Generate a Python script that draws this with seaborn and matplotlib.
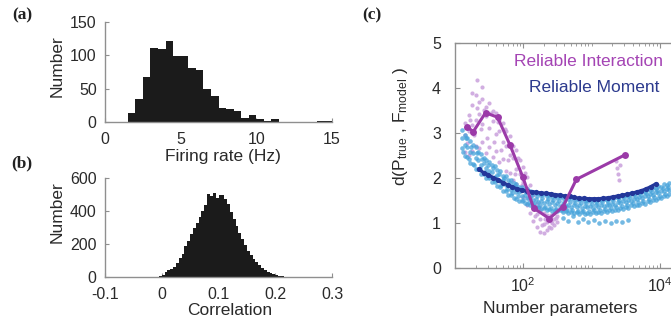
import numpy as np
import matplotlib
matplotlib.use('Agg')
import matplotlib.pyplot as plt
from matplotlib.ticker import LogLocator, NullFormatter
import seaborn as sns

# ---------------- (a) firing rate histogram ----------------
fr_edges = [1.5, 2.0, 2.5, 3.0, 3.5, 4.0, 4.5, 5.0, 5.5, 6.0, 6.5, 7.0, 7.5, 8.0,
            8.5, 9.0, 9.5, 10.0, 10.5, 11.0, 11.5, 12.0, 12.5, 13.0, 13.5, 14.0,
            14.5, 15.0]
fr_counts = [14, 34, 67, 111, 109, 122, 99, 99, 81, 78, 49, 39, 21, 20,
             17, 6, 11, 5, 1, 4, 0, 0, 0, 0, 0, 2, 1]

# ---------------- (b) correlation histogram ----------------
corr_edges = [-0.010, -0.005, 0.000, 0.005, 0.010, 0.015, 0.020, 0.025, 0.030,
              0.035, 0.040, 0.045, 0.050, 0.055, 0.060, 0.065, 0.070, 0.075,
              0.080, 0.085, 0.090, 0.095, 0.100, 0.105, 0.110, 0.115, 0.120,
              0.125, 0.130, 0.135, 0.140, 0.145, 0.150, 0.155, 0.160, 0.165,
              0.170, 0.175, 0.180, 0.185, 0.190, 0.195, 0.200, 0.205, 0.210,
              0.215, 0.220, 0.225]
corr_counts = [2, 4, 12, 28, 40, 50, 60, 85, 118, 142, 185, 220, 262, 298, 330,
               362, 398, 435, 505, 492, 508, 476, 500, 498, 472, 440, 395, 352,
               310, 268, 228, 192, 160, 132, 108, 88, 70, 55, 42, 32, 23, 16,
               10, 6, 4, 2, 1]

# ---------------- (c) model distance vs number of parameters ----------------
interaction_x = [15, 18.5, 28, 42, 64, 98, 142, 240, 380, 600, 3050]
interaction_y = [3.14, 3.03, 3.45, 3.35, 2.73, 2.03, 1.33, 1.10, 1.36, 1.97, 2.51]

moment_x = [22.4, 26.3, 30.9, 36.3, 42.7, 50.1, 58.9, 69.2, 81.3, 95.5, 112, 132,
            155, 182, 214, 251, 295, 347, 407, 479, 562, 661, 776, 912, 1072,
            1259, 1479, 1738, 2042, 2399, 2818, 3311, 3890, 4571, 5370, 6310,
            7413, 8710]
moment_y = [2.19, 2.12, 2.07, 2.01, 1.96, 1.90, 1.85, 1.80, 1.76, 1.73, 1.71, 1.69,
            1.68, 1.67, 1.66, 1.65, 1.63, 1.62, 1.60, 1.59, 1.57, 1.55, 1.55, 1.54,
            1.54, 1.54, 1.55, 1.56, 1.58, 1.60, 1.62, 1.64, 1.66, 1.69, 1.72, 1.76,
            1.81, 1.87]

# light-blue cloud (individual moment-model samples)
cloud_b_x = [12.6, 13.8, 15.1, 16.6, 18.2, 20.0, 21.9, 24.0, 26.3, 28.8, 31.6, 34.7,
             38.0, 41.7, 45.7, 50.1, 55.0, 60.3, 66.1, 72.4, 79.4, 87.1, 95.5, 105,
             115, 126, 138, 151, 166, 182, 200, 219, 240, 263, 288, 316, 347, 380,
             417, 457, 501, 550, 603, 661, 724, 794, 871, 955, 1047, 1148, 1259,
             1380, 1514, 1660, 1820, 1995, 2188, 2399, 2630, 2884, 3162, 3467, 3802,
             4169, 4571, 5012, 5495, 6026, 6607, 7244, 7943, 8710, 9550, 10471,
             11482, 12589, 13804]
cloud_b_y1 = [2.66, 2.48, 2.47, 2.33, 2.31, 2.20, 2.19, 2.10, 2.08, 2.01, 2.00, 1.92,
              1.91, 1.82, 1.80, 1.72, 1.71, 1.63, 1.62, 1.56, 1.54, 1.49, 1.50, 1.44,
              1.43, 1.39, 1.40, 1.35, 1.36, 1.31, 1.33, 1.28, 1.31, 1.27, 1.29, 1.26,
              1.28, 1.24, 1.27, 1.23, 1.25, 1.22, 1.24, 1.21, 1.24, 1.21, 1.23, 1.21,
              1.24, 1.22, 1.25, 1.23, 1.26, 1.25, 1.28, 1.26, 1.30, 1.29, 1.33, 1.32,
              1.36, 1.34, 1.39, 1.37, 1.41, 1.40, 1.44, 1.43, 1.48, 1.47, 1.52, 1.51,
              1.56, 1.55, 1.60, 1.59, 1.64]
cloud_b_y2 = [2.90, 2.74, 2.70, 2.58, 2.55, 2.44, 2.41, 2.30, 2.33, 2.22, 2.16, 2.14,
              2.03, 2.06, 1.93, 1.95, 1.84, 1.85, 1.74, 1.76, 1.68, 1.68, 1.60, 1.63,
              1.55, 1.57, 1.51, 1.53, 1.46, 1.50, 1.44, 1.48, 1.42, 1.46, 1.40, 1.44,
              1.38, 1.42, 1.37, 1.41, 1.36, 1.40, 1.35, 1.39, 1.34, 1.38, 1.35, 1.38,
              1.34, 1.39, 1.36, 1.39, 1.37, 1.41, 1.39, 1.43, 1.41, 1.46, 1.44, 1.48,
              1.47, 1.51, 1.50, 1.54, 1.53, 1.57, 1.56, 1.60, 1.60, 1.64, 1.63, 1.68,
              1.67, 1.72, 1.71, 1.75, 1.74]
cloud_b_y3 = [3.06, 2.96, 2.88, 2.82, 2.74, 2.68, 2.58, 2.53, 2.44, 2.41, 2.35, 2.28,
              2.26, 2.17, 2.15, 2.05, 2.04, 1.96, 1.95, 1.88, 1.87, 1.81, 1.81, 1.76,
              1.76, 1.71, 1.70, 1.66, 1.67, 1.62, 1.64, 1.60, 1.62, 1.58, 1.60, 1.56,
              1.58, 1.55, 1.56, 1.53, 1.55, 1.52, 1.54, 1.51, 1.53, 1.50, 1.52, 1.49,
              1.52, 1.50, 1.53, 1.51, 1.54, 1.52, 1.56, 1.54, 1.58, 1.56, 1.60, 1.59,
              1.63, 1.61, 1.66, 1.64, 1.68, 1.67, 1.71, 1.70, 1.75, 1.74, 1.78, 1.77,
              1.82, 1.81, 1.86, 1.84, 1.89]
cloud_b_x2 = [13.2, 14.5, 15.8, 17.4, 19.1, 20.9, 22.9, 25.1, 27.5, 30.2, 33.1, 36.3,
              39.8, 43.7, 47.9, 52.5, 57.5, 63.1, 69.2, 75.9, 83.2, 91.2, 100, 110,
              120, 132, 145, 158, 174, 191, 209, 229, 251, 275, 302, 331, 363, 398,
              437, 479, 525, 575, 631, 692, 759, 832, 912, 1000, 1096, 1202, 1318,
              1445, 1585, 1738, 1905, 2089, 2291, 2512, 2754, 3020, 3311, 3631, 3981,
              4365, 4786, 5248, 5754, 6310, 6918, 7586, 8318, 9120, 10000, 10965,
              12023, 13183]
cloud_b_y4 = [2.58, 2.88, 2.42, 2.70, 2.28, 2.56, 2.20, 2.42, 2.13, 2.30, 2.02, 2.22,
              1.95, 2.10, 1.84, 1.99, 1.76, 1.90, 1.66, 1.82, 1.60, 1.73, 1.52, 1.68,
              1.47, 1.63, 1.44, 1.59, 1.40, 1.56, 1.36, 1.53, 1.33, 1.52, 1.31, 1.49,
              1.30, 1.47, 1.29, 1.46, 1.28, 1.45, 1.27, 1.44, 1.27, 1.44, 1.27, 1.43,
              1.28, 1.45, 1.29, 1.46, 1.31, 1.47, 1.33, 1.50, 1.35, 1.52, 1.38, 1.55,
              1.40, 1.57, 1.44, 1.60, 1.46, 1.63, 1.50, 1.67, 1.53, 1.70, 1.57, 1.74,
              1.61, 1.77, 1.65, 1.81]
sparse_x = [380, 450, 530, 640, 760, 900, 1080, 1300, 1560, 1900, 2300, 2800, 3400]
sparse_y = [1.12, 1.05, 1.15, 1.03, 1.08, 1.02, 1.06, 1.01, 1.04, 1.00, 1.05, 1.03, 1.07]

# light-purple cloud (individual interaction-model samples)
cloud_p_x = [14.1, 15.8, 17.8, 20.0, 22.4, 25.1, 28.2, 31.6, 35.5, 39.8, 44.7, 50.1,
             56.2, 63.1, 70.8, 79.4, 89.1, 100, 112, 126, 141, 158, 178, 200, 224,
             251, 282, 316]
cloud_p_y1 = [2.58, 2.52, 2.60, 2.71, 2.66, 2.79, 2.55, 2.68, 2.47, 2.61, 2.35, 2.42,
              2.16, 2.12, 1.95, 1.86, 1.72, 1.58, 1.40, 1.22, 1.05, 0.92, 0.80, 0.78,
              0.84, 0.88, 0.95, 1.03]
cloud_p_y2 = [2.95, 3.05, 3.18, 3.30, 3.42, 3.21, 3.38, 3.12, 3.27, 2.98, 3.05, 2.80,
              2.71, 2.52, 2.44, 2.21, 2.10, 1.92, 1.78, 1.55, 1.38, 1.21, 1.08, 0.98,
              1.02, 1.05, 1.10, 1.15]
cloud_p_y3 = [3.22, 3.41, 3.62, 3.84, 3.70, 3.75, 3.58, 3.66, 3.49, 3.44, 3.29, 3.22,
              3.05, 2.93, 2.71, 2.62, 2.41, 2.24, 2.02, 1.84, 1.62, 1.45, 1.30, 1.22,
              1.17, 1.18, 1.22, 1.28]
cloud_p_x2 = [15.0, 16.8, 18.8, 21.1, 23.7, 26.6, 29.9, 33.5, 37.6, 42.2, 47.3, 53.1,
              59.6, 66.8, 75.0, 84.1, 94.4, 106, 119, 133, 150, 168, 188, 211, 237,
              266, 299]
cloud_p_y4 = [2.78, 3.30, 2.95, 3.55, 3.10, 3.52, 2.90, 3.45, 2.80, 3.25, 2.62, 3.10,
              2.40, 2.75, 2.10, 2.45, 1.85, 2.12, 1.55, 1.70, 1.15, 1.35, 0.95, 1.10,
              0.92, 1.00, 1.12]
extra_p_x = [21, 25, 17.5, 2300, 2380, 2450, 2520, 2600]
extra_p_y = [4.18, 4.02, 3.90, 2.38, 2.22, 2.08, 1.95, 2.30]

legend_labels = ['Reliable Interaction', 'Reliable Moment']

# ---------------- styling ----------------
sns.set_theme(style='white')
plt.rcParams['font.family'] = ['Liberation Sans', 'DejaVu Sans']
plt.rcParams['mathtext.default'] = 'regular'

spine_col = '#8f8f8f'
text_col = '#2a2a2a'
bar_col = '#1b1b1b'
purple = '#9b3aa8'
purple_light = '#c9a0dc'
navy = '#23379a'
sky = '#45a2da'

fig = plt.figure(figsize=(6.71, 3.2), dpi=100)
ax_a = fig.add_axes([105 / 671, 1 - 122 / 320, 227 / 671, 100 / 320])
ax_b = fig.add_axes([105 / 671, 1 - 277 / 320, 227 / 671, 99 / 320])
ax_c = fig.add_axes([455 / 671, 1 - 268 / 320, 239 / 671, 225 / 320])


def style_open(ax):
    for s in ['top', 'right']:
        ax.spines[s].set_visible(False)
    for s in ['left', 'bottom']:
        ax.spines[s].set_color(spine_col)
        ax.spines[s].set_linewidth(1.0)
    ax.tick_params(direction='in', length=3, width=0.8, color=spine_col,
                   labelsize=11.5, labelcolor=text_col,
                   bottom=True, left=True)
    ax.tick_params(axis='x', pad=7)
    ax.tick_params(axis='y', pad=6)


# (a)
sns.histplot(x=fr_edges[:-1], weights=fr_counts, bins=fr_edges, ax=ax_a,
             color=bar_col, alpha=1, edgecolor='none', linewidth=0)
ax_a.set_xlim(0, 15)
ax_a.set_ylim(0, 150)
ax_a.set_xticks([0, 5, 10, 15])
ax_a.set_yticks([0, 50, 100, 150])
style_open(ax_a)
ax_a.set_xlabel('Firing rate (Hz)', fontsize=12.5, color=text_col)
ax_a.set_ylabel('Number', fontsize=12.5, color=text_col)
ax_a.xaxis.set_label_coords(0.52, -0.27)
ax_a.yaxis.set_label_coords(-0.176, 0.56)

# (b)
sns.histplot(x=corr_edges[:-1], weights=corr_counts, bins=corr_edges, ax=ax_b,
             color=bar_col, alpha=1, edgecolor='none', linewidth=0)
ax_b.set_xlim(-0.1, 0.3)
ax_b.set_ylim(0, 600)
ax_b.set_xticks([-0.1, 0, 0.1, 0.2, 0.3])
ax_b.set_xticklabels(['-0.1', '0', '0.1', '0.2', '0.3'])
ax_b.set_yticks([0, 200, 400, 600])
style_open(ax_b)
ax_b.set_xlabel('Correlation', fontsize=12.5, color=text_col)
ax_b.set_ylabel('Number', fontsize=12.5, color=text_col)
ax_b.xaxis.set_label_coords(0.55, -0.265)
ax_b.yaxis.set_label_coords(-0.176, 0.66)

# (c)
ax_c.set_xscale('log')
sns.scatterplot(x=cloud_p_x * 3 + cloud_p_x2 + extra_p_x,
                y=cloud_p_y1 + cloud_p_y2 + cloud_p_y3 + cloud_p_y4 + extra_p_y,
                ax=ax_c, s=9, color=purple_light, linewidth=0, alpha=0.85,
                legend=False)
sns.scatterplot(x=cloud_b_x * 3 + cloud_b_x2 + sparse_x,
                y=cloud_b_y1 + cloud_b_y2 + cloud_b_y3 + cloud_b_y4 + sparse_y,
                ax=ax_c, s=11, color=sky, linewidth=0, alpha=0.75, legend=False)
sns.lineplot(x=moment_x, y=moment_y, ax=ax_c, color=navy, linewidth=2.3,
             marker='o', markersize=3.8, markeredgewidth=0, sort=False,
             estimator=None, legend=False)
sns.lineplot(x=interaction_x, y=interaction_y, ax=ax_c, color=purple,
             linewidth=2.2, marker='o', markersize=5, markeredgewidth=0,
             sort=False, estimator=None, legend=False)
ax_c.set_xlim(10, 10 ** 4.5)
ax_c.set_ylim(0, 5)
ax_c.set_xticks([100, 10000])
ax_c.xaxis.set_minor_locator(LogLocator(base=10, subs=np.arange(1, 10), numticks=20))
ax_c.xaxis.set_minor_formatter(NullFormatter())
ax_c.set_yticks([0, 1, 2, 3, 4, 5])
for s in ax_c.spines.values():
    s.set_color(spine_col)
    s.set_linewidth(1.0)
ax_c.tick_params(which='major', direction='in', length=3.5, width=0.8,
                 color=spine_col, labelsize=11.5, labelcolor=text_col,
                 top=True, right=True, bottom=True, left=True)
ax_c.tick_params(axis='x', which='major', pad=6)
ax_c.tick_params(axis='y', which='major', pad=10)
ax_c.tick_params(which='minor', direction='in', length=2, width=0.6,
                 color=spine_col, top=True, bottom=True)
ax_c.set_xlabel('Number parameters', fontsize=12.5, color=text_col)
ax_c.set_ylabel(r'd(P$_{true}$ , F$_{model}$ )', fontsize=12.5, color=text_col)
ax_c.xaxis.set_label_coords(0.44, -0.145)
ax_c.yaxis.set_label_coords(-0.188, 0.63)
ax_c.text(0.87, 0.916, legend_labels[0], transform=ax_c.transAxes, ha='right',
          va='center', fontsize=12.5, color='#a444b4')
ax_c.text(0.857, 0.80, legend_labels[1], transform=ax_c.transAxes, ha='right',
          va='center', fontsize=12.5, color='#2c3a8e')

# panel letters
for lx, ly, lab in [(22, 15, '(a)'), (22, 163, '(b)'), (372, 15, '(c)')]:
    fig.text(lx / 671, 1 - ly / 320, lab, ha='center', va='center',
             fontsize=12.5, fontweight='bold', family=['Liberation Serif', 'DejaVu Serif'],
             color='#222222')

fig.savefig('out.png', dpi=100)
